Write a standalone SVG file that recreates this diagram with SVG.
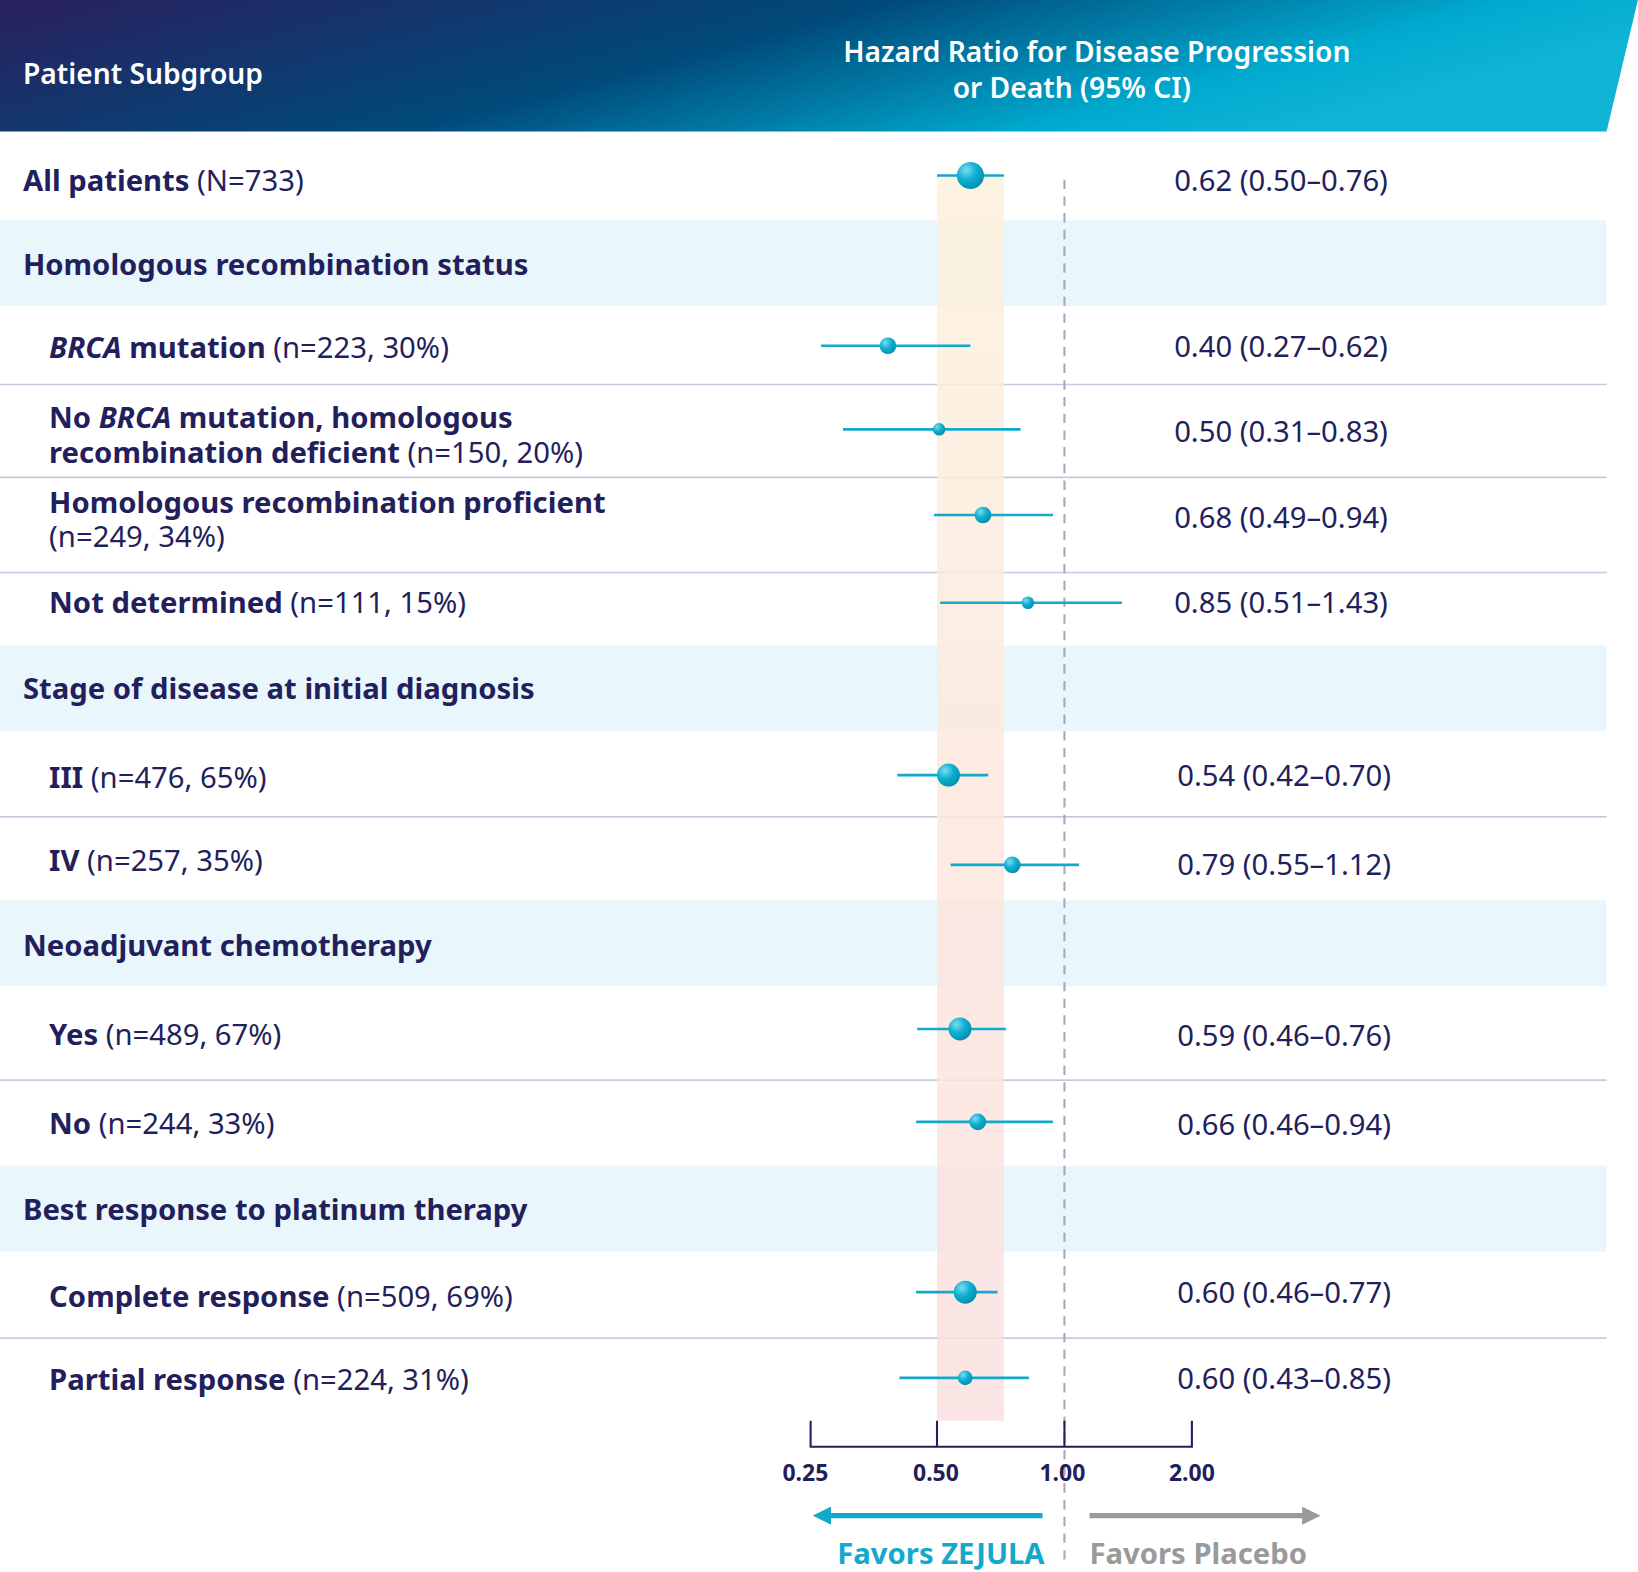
<svg xmlns="http://www.w3.org/2000/svg" width="1638" height="1572" viewBox="0 0 1638 1572">
<defs>
<linearGradient id="hdr" x1="0" y1="0" x2="1" y2="0.3"><stop offset="0" stop-color="#2a1f5e"/><stop offset="0.5" stop-color="#004a7a"/><stop offset="0.85" stop-color="#00aacf"/><stop offset="1" stop-color="#10b4d6"/></linearGradient>
<linearGradient id="col" x1="0" y1="0" x2="0" y2="1"><stop offset="0" stop-color="#fdf1dc"/><stop offset="1" stop-color="#fbdfe0"/></linearGradient>
<radialGradient id="dot" cx="0.35" cy="0.3" r="0.8"><stop offset="0" stop-color="#7fdcf0"/><stop offset="0.45" stop-color="#0fb0d2"/><stop offset="1" stop-color="#0088a8"/></radialGradient>
<marker id="ab" viewBox="0 0 10 10" refX="2" refY="5" markerWidth="3.5" markerHeight="3.5" orient="auto"><path d="M0,0L10,5L0,10z" fill="#12a9cc"/></marker>
<marker id="ag" viewBox="0 0 10 10" refX="2" refY="5" markerWidth="3.5" markerHeight="3.5" orient="auto"><path d="M0,0L10,5L0,10z" fill="#9a9a9a"/></marker>
</defs>
<style>
text{font-family:"Noto Sans","Open Sans",sans-serif;fill:#231f5c;font-size:28px}
.b{font-weight:700}
.h{fill:#fff;font-weight:600;font-size:27px}
.band{fill:#e9f6fb}
.sep{stroke:#c9c8dc;stroke-width:1.5}
.ci{stroke:#12a9cc;stroke-width:2.5}
.ax{font-weight:700;font-size:22px}
</style>
<g transform="scale(1.0446)">
<g id="header">
<path d="M0,0H1568L1538,126H0Z" fill="url(#hdr)"/>
<text class="h" x="22" y="80">Patient Subgroup</text>
<text class="h" x="1050" y="59" text-anchor="middle">Hazard Ratio for Disease Progression</text>
<text class="h" x="1026" y="94" text-anchor="middle">or Death (95% CI)</text>
</g>
<g id="rows">
<rect class="band" x="0" y="211" width="1538" height="82"/>
<rect class="band" x="0" y="618" width="1538" height="82"/>
<rect class="band" x="0" y="862" width="1538" height="82"/>
<rect class="band" x="0" y="1116" width="1538" height="82"/>
<line class="sep" x1="0" y1="368" x2="1538" y2="368"/>
<line class="sep" x1="0" y1="457" x2="1538" y2="457"/>
<line class="sep" x1="0" y1="548" x2="1538" y2="548"/>
<line class="sep" x1="0" y1="782" x2="1538" y2="782"/>
<line class="sep" x1="0" y1="1034" x2="1538" y2="1034"/>
<line class="sep" x1="0" y1="1281" x2="1538" y2="1281"/>
</g>
<rect id="ci-column" x="897" y="168" width="64" height="1192" fill="url(#col)" opacity="0.85"/>
<line x1="1019" y1="172" x2="1019" y2="1500" stroke="#a7a7bf" stroke-width="2" stroke-dasharray="9,7"/>
<g id="labels">
<text x="22" y="183"><tspan class="b">All patients</tspan> (N=733)</text>
<text x="22" y="263" class="b">Homologous recombination status</text>
<text x="47" y="343"><tspan class="b" font-style="italic">BRCA</tspan><tspan class="b"> mutation</tspan> (n=223, 30%)</text>
<text x="47" y="410" class="b">No <tspan font-style="italic">BRCA</tspan> mutation, homologous</text>
<text x="47" y="443"><tspan class="b">recombination deficient</tspan>  (n=150, 20%)</text>
<text x="47" y="491" class="b">Homologous recombination proficient</text>
<text x="47" y="524">(n=249, 34%)</text>
<text x="47" y="587"><tspan class="b">Not determined</tspan> (n=111, 15%)</text>
<text x="22" y="669" class="b">Stage of disease at initial diagnosis</text>
<text x="47" y="754"><tspan class="b">III</tspan> (n=476, 65%)</text>
<text x="47" y="834"><tspan class="b">IV</tspan> (n=257, 35%)</text>
<text x="22" y="915" class="b">Neoadjuvant chemotherapy</text>
<text x="47" y="1000"><tspan class="b">Yes</tspan> (n=489, 67%)</text>
<text x="47" y="1086"><tspan class="b">No</tspan> (n=244, 33%)</text>
<text x="22" y="1168" class="b">Best response to platinum therapy</text>
<text x="47" y="1251"><tspan class="b">Complete response</tspan> (n=509, 69%)</text>
<text x="47" y="1331"><tspan class="b">Partial response</tspan> (n=224, 31%)</text>
</g>
<g id="values">
<text x="1124" y="183">0.62 (0.50–0.76)</text>
<text x="1124" y="342">0.40 (0.27–0.62)</text>
<text x="1124" y="423">0.50 (0.31–0.83)</text>
<text x="1124" y="505">0.68 (0.49–0.94)</text>
<text x="1124" y="587">0.85 (0.51–1.43)</text>
<text x="1127" y="752">0.54 (0.42–0.70)</text>
<text x="1127" y="838">0.79 (0.55–1.12)</text>
<text x="1127" y="1001">0.59 (0.46–0.76)</text>
<text x="1127" y="1087">0.66 (0.46–0.94)</text>
<text x="1127" y="1247">0.60 (0.46–0.77)</text>
<text x="1127" y="1330">0.60 (0.43–0.85)</text>
</g>
<g id="points">
<line class="ci" x1="897" y1="168" x2="961" y2="168"/><circle cx="929" cy="168" r="13" fill="url(#dot)"/>
<line class="ci" x1="786" y1="331" x2="929" y2="331"/><circle cx="850" cy="331" r="8" fill="url(#dot)"/>
<line class="ci" x1="807" y1="411" x2="977" y2="411"/><circle cx="899" cy="411" r="6" fill="url(#dot)"/>
<line class="ci" x1="894" y1="493" x2="1008" y2="493"/><circle cx="941" cy="493" r="8" fill="url(#dot)"/>
<line class="ci" x1="900" y1="577" x2="1074" y2="577"/><circle cx="984" cy="577" r="6" fill="url(#dot)"/>
<line class="ci" x1="859" y1="742" x2="946" y2="742"/><circle cx="908" cy="742" r="11" fill="url(#dot)"/>
<line class="ci" x1="910" y1="828" x2="1033" y2="828"/><circle cx="969" cy="828" r="8" fill="url(#dot)"/>
<line class="ci" x1="878" y1="985" x2="963" y2="985"/><circle cx="919" cy="985" r="11" fill="url(#dot)"/>
<line class="ci" x1="877" y1="1074" x2="1008" y2="1074"/><circle cx="936" cy="1074" r="8" fill="url(#dot)"/>
<line class="ci" x1="877" y1="1237" x2="955" y2="1237"/><circle cx="924" cy="1237" r="11" fill="url(#dot)"/>
<line class="ci" x1="861" y1="1319" x2="985" y2="1319"/><circle cx="924" cy="1319" r="7" fill="url(#dot)"/>
</g>
<g id="axis">
<path d="M776,1360V1385H1141V1360M897,1385V1360M1019,1385V1360" fill="none" stroke="#231f5c" stroke-width="2"/>
<text class="ax" x="771" y="1418" text-anchor="middle">0.25</text>
<text class="ax" x="896" y="1418" text-anchor="middle">0.50</text>
<text class="ax" x="1017" y="1418" text-anchor="middle">1.00</text>
<text class="ax" x="1141" y="1418" text-anchor="middle">2.00</text>
</g>
<g id="connectors">
<line x1="998" y1="1451" x2="792" y2="1451" stroke="#12a9cc" stroke-width="5" marker-end="url(#ab)"/>
<line x1="1043" y1="1451" x2="1250" y2="1451" stroke="#9a9a9a" stroke-width="5" marker-end="url(#ag)"/>
</g>
<text x="1000" y="1497" text-anchor="end" class="b" style="fill:#12a9cc">Favors ZEJULA</text>
<text x="1043" y="1497" class="b" style="fill:#9a9a9a">Favors Placebo</text>
</g>
</svg>
